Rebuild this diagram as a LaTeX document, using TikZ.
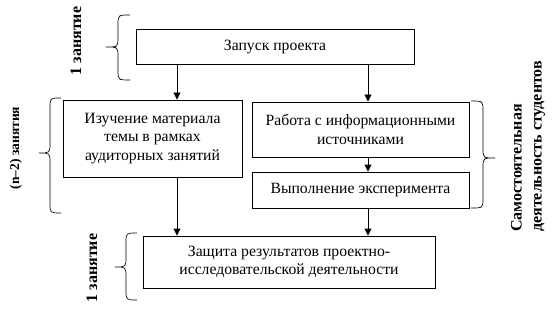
\documentclass[tikz,border=0pt]{standalone}
\usepackage{fontspec}
\setmainfont{LiberationSerif}[Extension=.ttf,UprightFont=*-Regular,BoldFont=*-Bold,ItalicFont=*-Italic,BoldItalicFont=*-BoldItalic]
\usetikzlibrary{arrows.meta}
\begin{document}
\begin{tikzpicture}[x=1pt,y=-1pt,
  box/.style={draw,line width=0.9pt,inner sep=0pt,align=center,font=\rmfamily\fontsize{15.7}{18.4}\selectfont},
  arr/.style={line width=0.9pt,-{Triangle[length=7pt,width=7pt]}},
  brc/.style={line width=0.7pt},
  lbl/.style={rotate=90,inner sep=0pt,font=\rmfamily\bfseries\fontsize{16}{18}\selectfont}]
\useasboundingbox (0,0) rectangle (559,310);
% boxes
\node[box,minimum width=278pt,minimum height=35pt] (launch) at (275,46.5) {Запуск проекта};
\node[box,minimum width=179pt,minimum height=77pt] (study) at (152.5,138.5) {Изучение материала\\темы в рамках\\аудиторных занятий};
\node[box,minimum width=217pt,minimum height=55pt] (work) at (360.5,129.5) {Работа с информационными\\источниками};
\node[box,minimum width=217pt,minimum height=36pt] (exper) at (360.5,190) {Выполнение эксперимента};
\node[box,minimum width=292pt,minimum height=52pt] (defense) at (289,262) {Защита результатов проектно-\\исследовательской деятельности};
% arrow columns
\coordinate (xa) at (177,0);
\coordinate (xb) at (368,0);
\draw[arr] (launch.south -| xa) -- (study.north -| xa);
\draw[arr] (launch.south -| xb) -- (work.north -| xb);
\draw[arr] (work.south -| xb) -- (exper.north -| xb);
\draw[arr] (study.south -| xa) -- (defense.north -| xa);
\draw[arr] (exper.south -| xb) -- (defense.north -| xb);
% braces
\draw[brc] (130,15) .. controls (118,15) .. (118,25) -- (118,37) .. controls (118,47) .. (106,47) .. controls (118,47) .. (118,57) -- (118,70) .. controls (118,80) .. (130,80);
\draw[brc] (61,98) .. controls (50,98) .. (50,108) -- (50,143) .. controls (50,153) .. (39,153) .. controls (50,153) .. (50,163) -- (50,203) .. controls (50,213) .. (61,213);
\draw[brc] (137,233) .. controls (126,233) .. (126,243) -- (126,257) .. controls (126,267) .. (115,267) .. controls (126,267) .. (126,277) -- (126,290) .. controls (126,300) .. (137,300);
\draw[brc] (471,101) .. controls (483,101) .. (483,111) -- (483,148) .. controls (483,158) .. (495,158) .. controls (483,158) .. (483,168) -- (483,198) .. controls (483,208) .. (471,208);
% labels
\node[lbl] (l1) at (76,41) {1 занятие};
\node[lbl,font=\rmfamily\bfseries\fontsize{13.5}{16}\selectfont] (l2) at (16,148) {(n–2) занятия};
\node[lbl] (l3) at (92,268) {1 занятие};
\node[lbl,anchor=west,align=left,font=\rmfamily\bfseries\fontsize{16}{20}\selectfont] (l4) at (528,232) {Самостоятельная\\деятельность студентов};
\end{tikzpicture}
\end{document}
